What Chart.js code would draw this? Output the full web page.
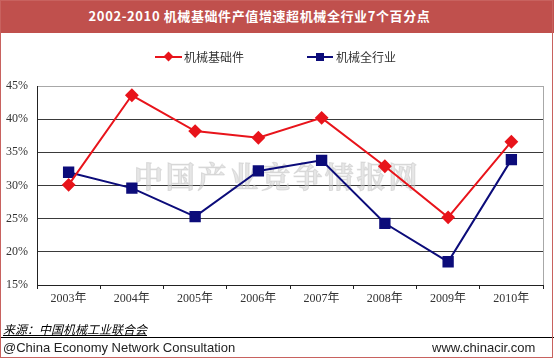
<!DOCTYPE html>
<html><head><meta charset="utf-8">
<script src="https://cdn.jsdelivr.net/npm/chart.js@4.4.1/dist/chart.umd.min.js"></script>
<style>
html,body{margin:0;padding:0;background:#fff;}
#wrap{position:relative;width:554px;height:358px;overflow:hidden;background:#fff;font-family:"Noto Sans CJK SC",sans-serif;}
#frame{position:absolute;left:0;top:0;width:551px;height:356px;border:1px solid #c8625f;box-sizing:content-box;}
#titlebar{position:absolute;left:0;top:0;width:554px;height:33px;background:#c0504d;}
#title{position:absolute;left:0;top:7px;width:519px;text-align:center;color:#fff;font-weight:bold;font-size:13px;letter-spacing:0.6px;line-height:18px;font-family:"Noto Sans CJK SC",sans-serif;}
#c{position:absolute;left:0;top:0;}
.leg{position:absolute;top:49px;font-size:12px;line-height:16px;color:#333;font-family:"Noto Sans CJK SC",sans-serif;}
.ln{position:absolute;height:2px;top:56px;}
.mk{position:absolute;}
#src{position:absolute;left:3px;top:321px;font-size:12px;line-height:16px;font-style:italic;text-decoration:underline;color:#000;font-family:"Noto Sans CJK SC",sans-serif;}
#rule{position:absolute;left:0;top:337px;width:554px;height:1px;background:#000;}
#foot1{position:absolute;left:3px;top:339px;font-size:13px;line-height:17px;color:#222;font-family:"Liberation Sans",Arial,sans-serif;}
#foot2{position:absolute;left:432px;top:339px;font-size:13px;line-height:17px;color:#222;font-family:"Liberation Sans",Arial,sans-serif;}
</style></head>
<body>
<div id="wrap">
<div id="titlebar"></div>
<div id="title">2002-2010 机械基础件产值增速超机械全行业7个百分点</div>
<canvas id="c" width="554" height="358"></canvas>
<div class="ln" style="left:155px;width:27px;background:#e8141b;"></div>
<div class="mk" style="left:165px;top:53px;width:7px;height:7px;background:#e8141b;transform:rotate(45deg);"></div>
<div class="leg" style="left:184px;">机械基础件</div>
<div class="ln" style="left:307px;width:26px;background:#0c0c7a;"></div>
<div class="mk" style="left:316px;top:53px;width:8px;height:8px;background:#0c0c7a;"></div>
<div class="leg" style="left:336px;">机械全行业</div>
<div id="src">来源：中国机械工业联合会</div>
<div id="rule"></div>
<div id="foot1">@China Economy Network Consultation</div>
<div id="foot2">www.chinacir.com</div>
<div id="frame"></div>
</div>
<script>
const categories = ["2003年","2004年","2005年","2006年","2007年","2008年","2009年","2010年"];
const basicParts = [30.1, 43.6, 38.2, 37.2, 40.2, 32.9, 25.2, 36.6];
const wholeIndustry = [32.0, 29.6, 25.3, 32.2, 33.8, 24.3, 18.5, 33.9];
const seriesNames = ["机械基础件","机械全行业"];
const yTicks = [15,20,25,30,35,40,45];

const watermark = {
  id:'watermark',
  beforeDatasetsDraw(chart){
    const ctx = chart.ctx;
    ctx.save();
    ctx.font = 'bold 29px "Noto Serif CJK SC","Noto Sans CJK SC",serif';
    ctx.fillStyle = 'rgba(205,205,205,0.5)';
    ctx.strokeStyle = 'rgba(190,190,190,0.45)';
    ctx.lineWidth = 1;
    ctx.textBaseline = 'middle';
    const txt = "中国产业竞争情报网";
    let x = 134;
    for (const ch of txt){ ctx.fillText(ch, x, 177); ctx.strokeText(ch, x, 177); x += 31.8; }
    ctx.restore();
  },
  afterDraw(chart){
    const a = chart.chartArea, ctx = chart.ctx;
    ctx.save();
    ctx.strokeStyle = '#a8a8a8'; ctx.lineWidth = 1;
    ctx.beginPath();
    ctx.moveTo(a.right+0.5, a.top); ctx.lineTo(a.right+0.5, a.bottom);
    ctx.stroke();
    ctx.restore();
  }
};

new Chart(document.getElementById('c'), {
  type:'line',
  data:{
    labels:categories,
    datasets:[
      {label:seriesNames[0], data:basicParts, borderColor:'#e8141b', backgroundColor:'#e8141b', borderWidth:2,
       pointStyle:'rectRot', pointRadius:5.5, pointHoverRadius:5.5, tension:0},
      {label:seriesNames[1], data:wholeIndustry, borderColor:'#0c0c7a', backgroundColor:'#0c0c7a', borderWidth:2,
       pointStyle:'rect', pointRadius:6.6, pointHoverRadius:6.6, tension:0}
    ]
  },
  options:{
    responsive:false, animation:false,
    layout:{padding:{left:0,right:11,top:86,bottom:43}},
    plugins:{legend:{display:false}, title:{display:false}, tooltip:{enabled:false}},
    scales:{
      x:{
        offset:true,
        grid:{offset:true, drawOnChartArea:false, drawTicks:true, tickLength:4, color:'#222', lineWidth:1},
        border:{color:'#222', width:1},
        ticks:{color:'#333', font:{size:12, family:'"Liberation Serif","Noto Sans CJK SC",serif'}, padding:3, maxRotation:0, autoSkip:false},
        afterFit(s){ s.height = 30; }
      },
      y:{
        min:15, max:45,
        afterBuildTicks(s){ s.ticks = yTicks.map(v=>({value:v})); },
        grid:{drawTicks:false, color:(c)=> c.tick && c.tick.value===45 ? '#a8a8a8' : '#3a3a3a', lineWidth:1},
        border:{color:'#222', width:1},
        ticks:{color:'#333', padding:9, font:{size:12, family:'"Liberation Serif",serif'}, callback:(v)=>v+'%'},
        afterFit(s){ s.width = 37; }
      }
    }
  },
  plugins:[watermark]
});
</script>
</body></html>
